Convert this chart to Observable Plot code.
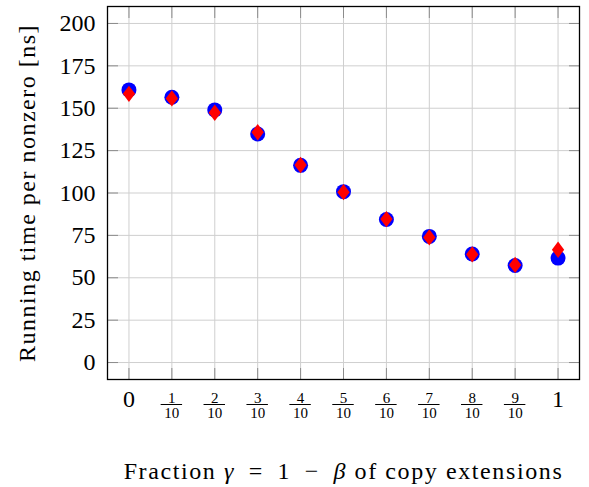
<!DOCTYPE html>
<html>
<head>
<meta charset="utf-8">
<script src="https://cdn.jsdelivr.net/npm/d3@7"></script>
<script src="https://cdn.jsdelivr.net/npm/@observablehq/plot@0.6"></script>
<style>
  html, body { margin: 0; padding: 0; background: #fff; }
  #chart svg { display: block; }
</style>
</head>
<body>
<div id="chart"></div>
<script>
// ---- data ----
const gamma = [0, 0.1, 0.2, 0.3, 0.4, 0.5, 0.6, 0.7, 0.8, 0.9, 1];
const circleTimes  = [160.8, 156.5, 149.0, 134.8, 116.3, 100.8, 84.4, 74.4, 64.0, 57.2, 61.6];
const diamondTimes = [158.5, 155.8, 147.3, 135.8, 116.5, 100.5, 84.6, 73.8, 63.8, 57.6, 66.5];
const yTicks = [0, 25, 50, 75, 100, 125, 150, 175, 200];
const xTicks = [0, 0.1, 0.2, 0.3, 0.4, 0.5, 0.6, 0.7, 0.8, 0.9, 1];
const xTickLabels = ["0", "1/10", "2/10", "3/10", "4/10", "5/10", "6/10", "7/10", "8/10", "9/10", "1"];
const xLabel = "Fraction γ\u2002=\u20021\u2002−\u2002β of copy extensions";
const yLabel = "Running time per nonzero [ns]";

const circles = gamma.map((g, i) => ({g, t: circleTimes[i]}));
const diamonds = gamma.map((g, i) => ({g, t: diamondTimes[i]}));
const ticks = xTicks.map((v, i) => {
  const [num, den] = xTickLabels[i].split("/");
  return {v, num, den};
});
const whole = ticks.filter(d => d.den === undefined);
const fracs = ticks.filter(d => d.den !== undefined);

// tall diamond symbol (pgfplots "diamond*")
const tallDiamond = {
  draw(context, size) {
    const r = Math.sqrt(size / Math.PI);
    const hw = r * 0.88, hh = r * 1.17;
    context.moveTo(0, -hh);
    context.lineTo(hw, 0);
    context.lineTo(0, hh);
    context.lineTo(-hw, 0);
    context.closePath();
  }
};

const FONT = "'Liberation Serif', 'DejaVu Serif', serif";
const gridColor = "#cfcfcf";
const tickColor = "#8c8c8c";

const chart = Plot.plot({
  width: 589,
  height: 487,
  marginLeft: 107,
  marginRight: 10,
  marginTop: 6,
  marginBottom: 108,
  style: {fontFamily: FONT, fontSize: "24px", color: "black", background: "white"},
  x: {domain: [-0.05, 1.05]},
  y: {domain: [-10, 210]},
  marks: [
    Plot.gridX(xTicks, {stroke: gridColor, strokeOpacity: 1, strokeWidth: 1}),
    Plot.gridY(yTicks, {stroke: gridColor, strokeOpacity: 1, strokeWidth: 1}),
    // inward ticks on all four sides
    Plot.axisX(xTicks, {anchor: "bottom", tickSize: -11, tickFormat: () => "", stroke: tickColor, label: null}),
    Plot.axisX(xTicks, {anchor: "top", tickSize: -11, tickFormat: () => "", stroke: tickColor, label: null}),
    Plot.axisY(yTicks, {anchor: "left", tickSize: -11, tickFormat: () => "", stroke: tickColor, label: null}),
    Plot.axisY(yTicks, {anchor: "right", tickSize: -11, tickFormat: () => "", stroke: tickColor, label: null}),
    // y tick labels
    Plot.axisY(yTicks, {anchor: "left", tickSize: 0, tickPadding: 12, label: null, fontSize: 24, fontFamily: FONT}),
    // x tick labels: whole numbers and fractions
    Plot.text(whole, {x: "v", text: "num", frameAnchor: "bottom", dy: 19.5, fontSize: 24, fontFamily: FONT, lineAnchor: "middle"}),
    Plot.text(fracs, {x: "v", text: "num", frameAnchor: "bottom", dy: 18.3, fontSize: 15, fontFamily: FONT, lineAnchor: "middle"}),
    Plot.text(fracs, {x: "v", text: "den", frameAnchor: "bottom", dy: 34, fontSize: 15, fontFamily: FONT, lineAnchor: "middle"}),
    Plot.ruleY(fracs, {x1: d => d.v - 0.025, x2: d => d.v + 0.025, y: () => -10, dy: 25, stroke: "black", strokeWidth: 1}),
    // axis titles
    Plot.text([xLabel], {text: d => d, frameAnchor: "bottom", dy: 92, fontSize: 24, fontFamily: FONT, lineAnchor: "middle", textAnchor: "middle"}),
    Plot.text([yLabel], {text: d => d, frameAnchor: "left", dx: -80, rotate: -90, fontSize: 24, fontFamily: FONT, lineAnchor: "middle", textAnchor: "middle"}),
    // data
    Plot.dot(circles, {x: "g", y: "t", r: 7.5, fill: "#0000ff", stroke: "none", symbol: "circle"}),
    Plot.dot(diamonds, {x: "g", y: "t", r: 7, fill: "#ff0000", stroke: "none", symbol: tallDiamond}),
    Plot.frame({stroke: "black", strokeWidth: 1.3})
  ]
});

// typographic touches: wider tracking for the titles, italic math symbols
d3.select(chart).selectAll("text").each(function () {
  const t = this.textContent;
  if (t === yLabel) {
    this.style.letterSpacing = "1.5px";
  } else if (t === xLabel) {
    this.style.letterSpacing = "1.6px";
    const parts = t.split(/([γβ])/);
    this.textContent = "";
    for (const p of parts) {
      if (!p) continue;
      const ts = document.createElementNS("http://www.w3.org/2000/svg", "tspan");
      ts.textContent = p;
      if (p === "γ" || p === "β") ts.setAttribute("font-style", "italic");
      this.appendChild(ts);
    }
  }
});
document.getElementById("chart").appendChild(chart);
</script>
</body>
</html>
